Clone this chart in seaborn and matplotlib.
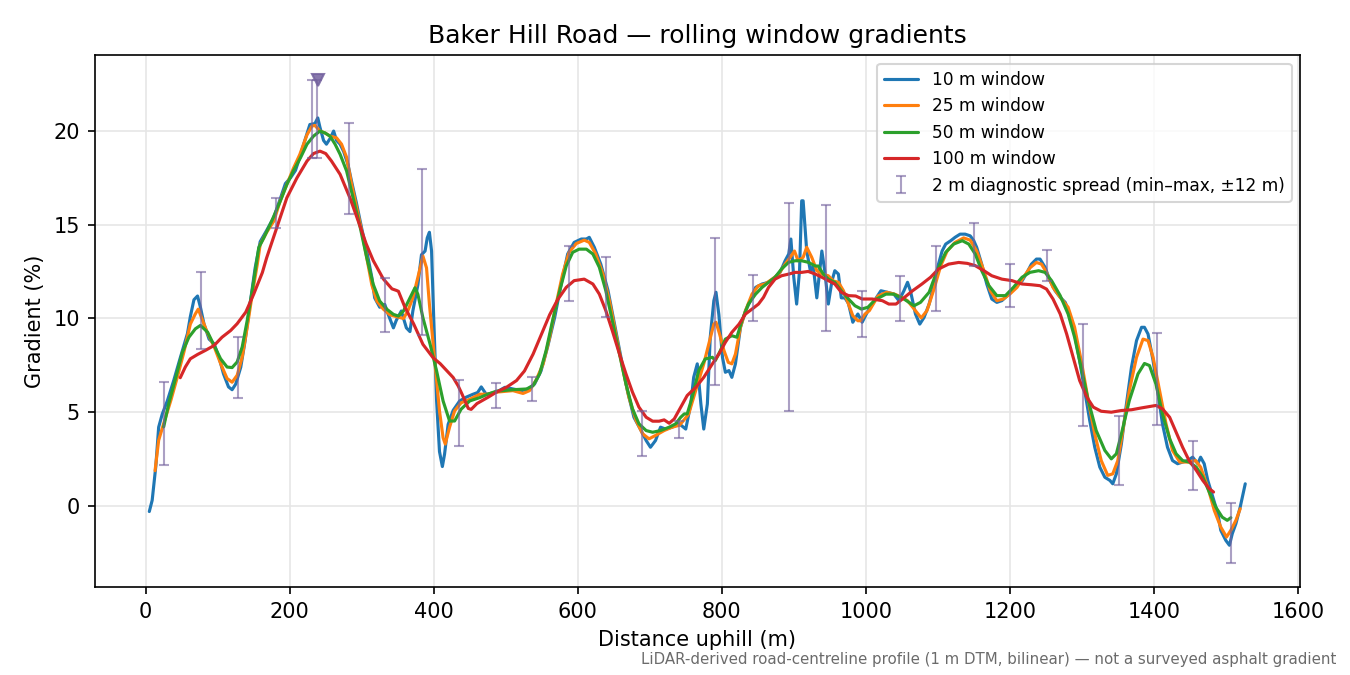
import numpy as np
import matplotlib
matplotlib.use("Agg")
import matplotlib.pyplot as plt
import seaborn as sns

# 10 m rolling window (distance m, gradient %)
d10 = [
    5, 9, 14, 18, 23, 30, 39, 48, 58, 62,
    67, 72, 76, 81, 88, 95, 102, 108, 115, 120,
    125, 132, 138, 145, 152, 159, 168, 178, 187, 194,
    201, 208, 214, 221, 228, 235, 239, 242, 247, 251,
    256, 261, 265, 270, 275, 281, 286, 293, 300, 307,
    314, 318, 325, 332, 337, 344, 348, 355, 362, 367,
    371, 378, 383, 388, 391, 394, 397, 400, 404, 408,
    412, 415, 420, 427, 436, 445, 454, 461, 466, 473,
    487, 499, 510, 522, 531, 540, 549, 558, 568, 577,
    586, 595, 605, 612, 616, 623, 632, 642, 651, 660,
    669, 678, 688, 695, 701, 708, 715, 722, 731, 741,
    750, 757, 761, 766, 771, 775, 780, 784, 789, 792,
    796, 801, 805, 810, 814, 819, 826, 833, 840, 847,
    856, 865, 874, 881, 888, 893, 896, 900, 904, 908,
    911, 913, 918, 923, 927, 932, 936, 939, 943, 948,
    953, 957, 962, 966, 971, 976, 982, 989, 995, 1002,
    1012, 1021, 1030, 1039, 1046, 1053, 1058, 1062, 1069, 1075,
    1081, 1088, 1095, 1101, 1106, 1111, 1118, 1124, 1131, 1138,
    1145, 1150, 1154, 1161, 1168, 1175, 1182, 1189, 1196, 1203,
    1210, 1217, 1224, 1230, 1237, 1242, 1249, 1256, 1263, 1270,
    1277, 1283, 1290, 1297, 1304, 1311, 1318, 1325, 1332, 1339,
    1343, 1348, 1355, 1362, 1369, 1376, 1383, 1387, 1392, 1399,
    1406, 1412, 1419, 1426, 1433, 1440, 1447, 1454, 1461, 1465,
    1470, 1475, 1482, 1489, 1493, 1500, 1505, 1509, 1514, 1520,
    1527]
g10 = [
    -0.3, 0.3, 2.1, 4.2, 4.9, 5.6, 6.7, 7.9, 9.2, 10.1,
    11.0, 11.2, 10.6, 9.7, 8.9, 8.65, 7.9, 7.05, 6.35, 6.2,
    6.5, 7.4, 8.8, 10.8, 12.7, 14.1, 14.7, 15.4, 16.4, 17.2,
    17.5, 17.9, 18.6, 19.5, 20.35, 20.4, 20.7, 20.2, 19.5, 19.3,
    19.6, 20.0, 19.5, 19.3, 18.9, 18.2, 17.3, 16.1, 14.8, 13.6,
    12.2, 11.1, 10.6, 10.75, 10.2, 9.5, 9.9, 10.4, 9.5, 9.3,
    10.4, 11.8, 13.4, 13.6, 14.3, 14.6, 13.6, 10.0, 5.6, 2.9,
    2.1, 2.75, 4.35, 5.1, 5.6, 5.8, 5.95, 6.05, 6.35, 5.95,
    6.07, 6.33, 6.24, 6.15, 6.24, 6.5, 7.2, 8.46, 10.06, 11.84,
    13.44, 14.06, 14.24, 14.24, 14.33, 13.8, 12.9, 11.5, 9.7, 7.93,
    6.15, 4.73, 4.02, 3.49, 3.13, 3.49, 4.2, 4.1, 4.2, 4.38,
    4.1, 5.44, 6.86, 7.58, 5.44, 4.1, 5.44, 9.0, 10.95, 11.4,
    10.2, 7.93, 7.13, 7.22, 6.86, 7.58, 9.53, 10.42, 10.95, 11.66,
    11.84, 11.93, 12.2, 12.46, 13.08, 13.44, 14.24, 12.2, 10.77, 12.55,
    16.28, 16.28, 13.6, 12.55, 12.8, 11.1, 12.55, 13.6, 12.55, 10.77,
    12.0, 12.55, 12.37, 11.1, 11.1, 10.8, 9.8, 10.24, 9.8, 10.33,
    10.95, 11.48, 11.4, 11.3, 10.95, 11.48, 11.93, 11.48, 10.24, 9.7,
    10.06, 10.77, 11.84, 12.9, 13.6, 13.97, 14.15, 14.33, 14.5, 14.5,
    14.41, 14.15, 13.8, 12.9, 11.84, 11.04, 10.86, 10.95, 11.2, 11.48,
    11.75, 12.0, 12.46, 12.9, 13.17, 13.17, 12.73, 12.0, 11.48, 11.13,
    10.86, 10.24, 9.17, 7.75, 6.15, 4.56, 3.13, 2.07, 1.53, 1.36,
    1.18, 1.71, 3.31, 5.44, 7.4, 8.82, 9.53, 9.53, 9.17, 7.75,
    5.98, 4.38, 3.13, 2.42, 2.25, 2.34, 2.42, 2.6, 2.25, 2.6,
    2.25, 1.36, 0.47, -0.42, -1.3, -1.84, -2.1, -1.48, -0.95, -0.06,
    1.18]

# 25 m rolling window
d25 = [
    13, 18, 25, 35, 44, 53, 62, 69, 73, 78,
    85, 95, 104, 113, 120, 127, 134, 141, 148, 155,
    159, 168, 178, 187, 196, 205, 214, 224, 231, 235,
    242, 249, 256, 265, 272, 279, 286, 293, 300, 307,
    314, 321, 330, 339, 348, 358, 364, 371, 378, 385,
    390, 394, 401, 408, 413, 416, 422, 429, 438, 450,
    464, 475, 487, 510, 524, 533, 542, 552, 561, 570,
    579, 588, 598, 609, 616, 625, 635, 644, 653, 662,
    671, 681, 690, 699, 708, 720, 731, 741, 747, 754,
    761, 768, 775, 782, 789, 792, 797, 803, 809, 814,
    819, 826, 833, 842, 851, 860, 870, 879, 888, 895,
    901, 906, 913, 918, 925, 932, 939, 948, 955, 962,
    969, 976, 982, 989, 993, 999, 1005, 1017, 1029, 1040,
    1046, 1058, 1069, 1077, 1085, 1094, 1104, 1113, 1124, 1136,
    1145, 1154, 1164, 1173, 1182, 1191, 1200, 1210, 1219, 1228,
    1237, 1244, 1251, 1260, 1270, 1281, 1290, 1300, 1309, 1318,
    1327, 1336, 1343, 1350, 1357, 1366, 1376, 1385, 1392, 1399,
    1408, 1417, 1426, 1436, 1447, 1458, 1465, 1475, 1484, 1493,
    1501, 1507, 1514, 1520]
g25 = [
    1.88, 3.5, 4.4, 5.64, 6.88, 8.2, 9.7, 10.25, 10.5, 10.0,
    9.3, 8.5, 7.6, 6.8, 6.6, 6.97, 7.94, 9.54, 11.3, 12.9,
    13.95, 14.6, 15.2, 16.3, 17.15, 18.0, 18.75, 19.8, 20.27, 20.3,
    20.0, 19.9, 19.73, 19.64, 19.3, 18.6, 17.15, 15.9, 14.67, 13.25,
    11.8, 10.93, 10.5, 10.2, 10.1, 10.0, 10.4, 11.1, 12.2, 13.33,
    12.7, 10.76, 7.9, 5.07, 3.64, 3.3, 4.2, 5.07, 5.5, 5.69,
    5.96, 5.96, 6.07, 6.15, 6.0, 6.15, 6.7, 7.58, 9.0, 10.77,
    12.37, 13.53, 14.0, 14.18, 14.06, 13.44, 12.37, 10.95, 9.17, 7.4,
    5.8, 4.56, 3.85, 3.58, 3.76, 4.02, 4.2, 4.3, 4.56, 4.9,
    5.8, 6.69, 7.58, 8.64, 9.7, 9.8, 9.17, 8.3, 7.66, 7.58,
    8.1, 9.53, 10.42, 11.3, 11.75, 11.84, 12.1, 12.37, 12.9, 13.26,
    13.6, 13.08, 13.26, 13.8, 13.26, 12.55, 12.37, 12.28, 12.0, 11.93,
    11.48, 10.77, 10.15, 9.88, 9.88, 10.24, 10.42, 11.2, 11.4, 11.3,
    11.2, 10.95, 10.42, 10.03, 10.42, 11.48, 12.8, 13.6, 14.06, 14.3,
    14.18, 13.6, 12.55, 11.48, 10.95, 11.04, 11.3, 11.66, 12.2, 12.7,
    12.99, 12.9, 12.46, 11.66, 11.13, 10.6, 9.53, 7.58, 5.62, 3.84,
    2.42, 1.63, 1.71, 2.42, 4.02, 6.15, 7.93, 8.9, 8.82, 7.93,
    6.15, 4.38, 2.96, 2.34, 2.34, 2.42, 2.07, 1.0, -0.24, -1.13,
    -1.66, -1.3, -0.77, -0.15]

# 50 m rolling window
d50 = [
    25, 32, 42, 51, 60, 69, 76, 86, 95, 104,
    113, 120, 127, 134, 141, 148, 157, 164, 175, 187,
    196, 205, 215, 224, 233, 242, 249, 256, 263, 270,
    279, 288, 298, 307, 316, 325, 335, 344, 351, 358,
    367, 374, 378, 385, 395, 404, 413, 422, 429, 438,
    450, 464, 475, 487, 510, 529, 538, 547, 556, 565,
    575, 584, 593, 602, 612, 621, 630, 639, 648, 658,
    667, 676, 685, 695, 704, 715, 727, 736, 743, 748,
    752, 759, 768, 777, 787, 791, 798, 805, 814, 821,
    828, 837, 847, 856, 865, 874, 883, 893, 902, 911,
    920, 930, 934, 941, 948, 957, 966, 976, 985, 994,
    1003, 1013, 1028, 1039, 1053, 1067, 1076, 1088, 1099, 1111,
    1122, 1134, 1143, 1152, 1161, 1171, 1182, 1194, 1205, 1217,
    1228, 1240, 1249, 1258, 1270, 1281, 1290, 1300, 1309, 1320,
    1332, 1341, 1348, 1355, 1366, 1378, 1387, 1394, 1403, 1412,
    1422, 1431, 1440, 1449, 1459, 1468, 1477, 1486, 1495, 1502,
    1507]
g50 = [
    4.22, 5.46, 6.88, 8.2, 9.0, 9.45, 9.63, 9.27, 8.56, 7.85,
    7.41, 7.38, 7.68, 8.48, 9.9, 11.5, 13.78, 14.3, 15.2, 16.27,
    17.15, 17.87, 18.58, 19.3, 19.73, 20.0, 19.9, 19.73, 19.3, 18.76,
    17.87, 16.44, 14.84, 13.24, 11.82, 10.93, 10.49, 10.22, 10.13, 10.4,
    11.1, 11.64, 11.29, 10.04, 8.62, 7.2, 5.6, 4.53, 4.53, 5.16,
    5.6, 5.78, 5.96, 6.12, 6.2, 6.24, 6.42, 7.04, 8.28, 9.88,
    11.48, 12.8, 13.53, 13.7, 13.7, 13.44, 12.73, 11.48, 9.88, 8.1,
    6.5, 5.18, 4.38, 4.02, 3.93, 4.02, 4.2, 4.38, 4.73, 4.91,
    4.91, 5.8, 7.22, 7.84, 7.93, 7.75, 8.28, 8.9, 9.08, 9.0,
    9.88, 10.77, 11.3, 11.66, 11.93, 12.2, 12.64, 13.0, 13.08, 13.08,
    13.0, 12.8, 12.8, 12.37, 12.1, 11.93, 11.48, 11.04, 10.68, 10.5,
    10.6, 11.0, 11.3, 11.3, 11.04, 10.68, 10.86, 11.4, 12.55, 13.53,
    13.97, 14.15, 13.97, 13.44, 12.55, 11.75, 11.22, 11.22, 11.66, 12.2,
    12.46, 12.55, 12.46, 12.02, 11.22, 10.24, 9.0, 7.22, 5.62, 4.02,
    2.96, 2.51, 2.78, 3.84, 5.62, 7.04, 7.6, 7.49, 6.5, 4.91,
    3.58, 2.78, 2.42, 2.34, 2.07, 1.54, 0.74, -0.06, -0.6, -0.77,
    -0.63]

# 100 m rolling window
d100 = [
    48, 55, 62, 72, 83, 95, 106, 118, 127, 139,
    150, 162, 168, 182, 196, 210, 224, 233, 242, 250,
    258, 270, 284, 297, 306, 316, 330, 342, 348, 351,
    360, 372, 385, 399, 409, 427, 434, 439, 448, 452,
    460, 476, 487, 501, 515, 526, 538, 549, 561, 572,
    584, 595, 609, 621, 630, 639, 648, 658, 667, 676,
    685, 695, 704, 713, 720, 727, 734, 743, 752, 764,
    775, 787, 796, 805, 814, 824, 833, 842, 851, 858,
    865, 874, 883, 893, 902, 911, 920, 930, 939, 948,
    957, 966, 976, 986, 995, 1009, 1023, 1032, 1042, 1051,
    1065, 1078, 1090, 1101, 1115, 1129, 1141, 1152, 1164, 1175,
    1189, 1203, 1217, 1230, 1242, 1251, 1260, 1270, 1279, 1288,
    1297, 1307, 1316, 1327, 1341, 1355, 1369, 1383, 1394, 1403,
    1412, 1422, 1431, 1440, 1449, 1459, 1468, 1477, 1483]
g100 = [
    6.84, 7.41, 7.85, 8.08, 8.3, 8.56, 9.0, 9.36, 9.72, 10.34,
    11.3, 12.45, 13.24, 14.84, 16.44, 17.5, 18.4, 18.8, 18.93, 18.8,
    18.4, 17.69, 16.4, 15.0, 14.0, 13.09, 12.11, 11.58, 11.5, 11.45,
    10.6, 9.72, 8.62, 7.91, 7.59, 6.85, 6.4, 5.99, 5.2, 5.15,
    5.46, 5.81, 6.07, 6.33, 6.69, 7.2, 8.1, 9.1, 10.2, 11.0,
    11.66, 12.02, 12.1, 11.84, 11.3, 10.42, 9.35, 8.1, 7.04, 6.07,
    5.27, 4.73, 4.52, 4.52, 4.59, 4.41, 4.64, 5.27, 5.89, 6.33,
    6.86, 7.58, 8.1, 8.73, 9.26, 9.7, 10.24, 10.5, 10.77, 11.13,
    11.66, 12.1, 12.28, 12.37, 12.46, 12.46, 12.51, 12.37, 12.2, 12.02,
    11.84, 11.4, 11.22, 11.2, 11.04, 11.04, 10.95, 10.77, 10.77, 11.04,
    11.48, 11.84, 12.2, 12.64, 12.9, 12.99, 12.94, 12.82, 12.55, 12.28,
    12.1, 12.02, 11.84, 11.8, 11.75, 11.57, 11.04, 10.24, 9.17, 7.93,
    6.69, 5.8, 5.27, 5.05, 5.0, 5.09, 5.13, 5.23, 5.3, 5.36,
    5.18, 4.73, 3.93, 3.13, 2.42, 1.9, 1.36, 0.92, 0.74]

# 2 m diagnostic spread (min / max within +-12 m)
spread_d = [25, 77, 128, 181, 231, 238, 282, 332, 384, 435,
            486, 537, 588, 639, 689, 741, 791, 843, 894, 945,
            995, 1047, 1098, 1150, 1200, 1252, 1302, 1352, 1404, 1455,
            1507]
spread_lo = [2.2, 8.35, 5.76, 14.84, 18.58, 18.58, 15.6, 9.28, 9.12, 3.2,
             5.21, 5.59, 10.95, 10.06, 2.66, 3.63, 6.47, 9.85, 5.09, 9.35,
             9.0, 9.85, 10.38, 12.78, 10.6, 11.98, 4.25, 1.13, 4.34, 0.83,
             -3.05]
spread_hi = [6.61, 12.46, 9.0, 16.44, 22.7, 22.7, 20.44, 12.18, 17.99, 6.72,
             6.55, 6.9, 13.88, 13.3, 5.09, 4.52, 14.27, 12.3, 16.14, 16.05,
             11.48, 12.28, 13.88, 15.09, 12.9, 13.67, 9.7, 4.82, 9.25, 3.44,
             0.17]

# steepest point marker
peak_d = 239
peak_g = 22.75

sns.set_style("ticks", {"axes.grid": True, "grid.color": "#e6e6e6"})
plt.rcParams["font.family"] = ["DejaVu Sans"]
# plain black text / spines like the reference
for key in ["text.color", "axes.labelcolor", "xtick.color", "ytick.color",
            "axes.edgecolor"]:
    plt.rcParams[key] = "black"

fig, ax = plt.subplots(figsize=(9, 4.5), dpi=150)
fig.subplots_adjust(left=0.07, right=0.963, top=0.918, bottom=0.13)

series = [
    (d10, g10, "10 m window", "#1f77b4"),
    (d25, g25, "25 m window", "#ff7f0e"),
    (d50, g50, "50 m window", "#2ca02c"),
    (d100, g100, "100 m window", "#d62728"),
]
for d, g, lab, col in series:
    sns.lineplot(x=d, y=g, ax=ax, color=col, lw=1.5, label=lab,
                 sort=False, estimator=None)

lo = np.array(spread_lo)
hi = np.array(spread_hi)
mid = (lo + hi) / 2
ax.errorbar(spread_d, mid, yerr=[mid - lo, hi - mid], fmt="none",
            ecolor=(0.45, 0.38, 0.62), elinewidth=1.0, capsize=2.5,
            alpha=0.6, label="2 m diagnostic spread (min\u2013max, \u00b112 m)")
ax.plot([peak_d], [peak_g], marker="v", ms=6, ls="none",
        color=(0.45, 0.38, 0.62), alpha=0.85)

ax.set_axisbelow(True)
ax.grid(True, color="#e6e6e6", lw=0.8)
for s in ax.spines.values():
    s.set_visible(True)
    s.set_color("black")

ax.set_xlabel("Distance uphill (m)", fontsize=10)
ax.set_ylabel("Gradient (%)", fontsize=10)
ax.set_title("Baker Hill Road \u2014 rolling window gradients", fontsize=12)
ax.tick_params(labelsize=10, colors="black")
ax.legend(loc="upper right", fontsize=8.2)

fig.text(0.99, 0.012,
         "LiDAR-derived road-centreline profile (1 m DTM, bilinear) \u2014 not a surveyed asphalt gradient",
         ha="right", va="bottom", fontsize=7.2, color="0.42")

fig.savefig("out.png", dpi=150)
